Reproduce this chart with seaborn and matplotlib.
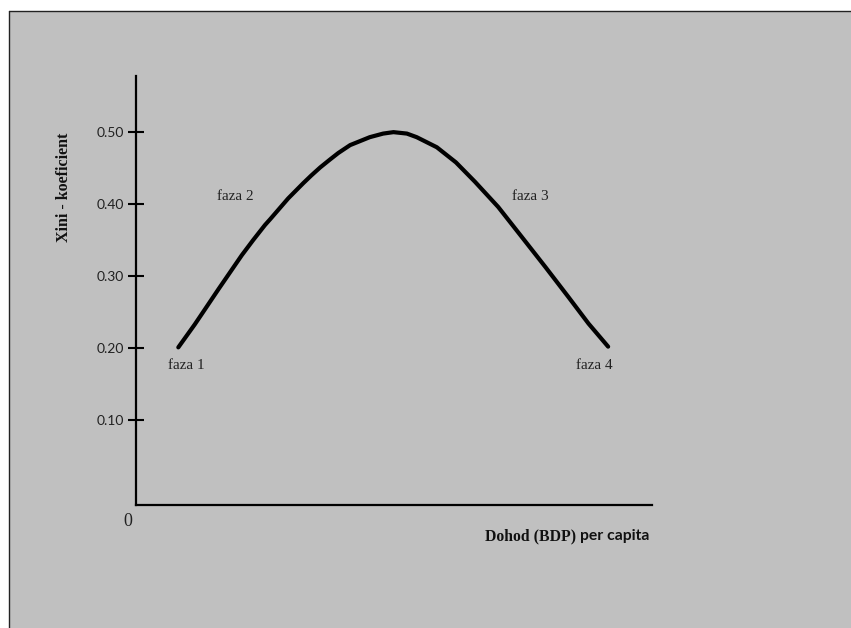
import matplotlib
matplotlib.use("Agg")
import matplotlib.pyplot as plt
from matplotlib.patches import Rectangle
import seaborn as sns
import pandas as pd

# Data (income units 0..10 along the drawn axis)
income = [0.82, 1.14, 1.30, 1.60, 2.05, 2.27, 2.50, 2.60, 2.95, 3.24, 3.40, 3.57, 3.76, 3.92,
          4.15, 4.53, 4.79, 4.99, 5.25, 5.44, 5.83, 6.20, 6.57, 7.02, 7.47, 7.93, 8.38, 8.77, 9.15]
gini = [0.201, 0.233, 0.250, 0.282, 0.329, 0.350, 0.371, 0.379, 0.408, 0.429, 0.440, 0.451, 0.462, 0.471,
        0.482, 0.493, 0.498, 0.500, 0.498, 0.493, 0.479, 0.458, 0.431, 0.396, 0.355, 0.313, 0.271, 0.234, 0.202]
y_ticks = [0.10, 0.20, 0.30, 0.40, 0.50]
y_tick_labels = ["0.10", "0.20", "0.30", "0.40", "0.50"]
phase_labels = ["faza 1", "faza 2", "faza 3", "faza 4"]
phase_x = [0.97, 1.92, 7.65, 8.88]
phase_y = [0.176, 0.411, 0.411, 0.176]

df = pd.DataFrame({"income": income, "gini": gini})

sns.set_theme(style="white")
plt.rcParams["font.family"] = ["Liberation Serif", "DejaVu Serif"]

W, H = 851, 628
fig = plt.figure(figsize=(W / 100, H / 100), dpi=100)
fig.patch.set_facecolor("white")

# grey panel with black top and left edge
fig.patches.append(Rectangle((9 / W, 0), 1 - 9 / W, 1 - 11 / H, transform=fig.transFigure,
                             facecolor="#c0c0c0", edgecolor="none", zorder=-10))
fig.add_artist(plt.Line2D([9 / W, 9 / W], [0, 1 - 11 / H], transform=fig.transFigure,
                          color="#222222", lw=1.0, zorder=-5))
fig.add_artist(plt.Line2D([9 / W, 1], [1 - 11 / H, 1 - 11 / H], transform=fig.transFigure,
                          color="#222222", lw=1.0, zorder=-5))

left, right, top, bottom = 136, 652, 76, 505
ax = fig.add_axes([left / W, 1 - bottom / H, (right - left) / W, (bottom - top) / H])
ax.set_facecolor("none")
ax.set_zorder(5)

sns.lineplot(data=df, x="income", y="gini", ax=ax, color="black", linewidth=3.0, sort=False)
ax.lines[0].set_solid_joinstyle("round")

ax.set_xlim(0, 10)
ax.set_ylim(-0.018, 0.578)
for s in ["top", "right"]:
    ax.spines[s].set_visible(False)
for s in ["left", "bottom"]:
    ax.spines[s].set_visible(True)
    ax.spines[s].set_color("black")
    ax.spines[s].set_linewidth(1.6)

ax.set_xticks([])
ax.set_yticks(y_ticks)
ax.set_yticklabels(y_tick_labels, fontfamily="Lato", fontsize=10, color="#222222")
ax.tick_params(axis="y", direction="inout", length=11.5, width=1.5, color="black", pad=3, left=True)
ax.set_xlabel("")
ax.set_ylabel("")
ax.grid(False)

for lab, xx, yy in zip(phase_labels, phase_x, phase_y):
    ax.text(xx, yy, lab, ha="center", va="center", fontsize=11, color="#222222",
            fontfamily="Liberation Serif")

# y-axis title
fig.text(64 / W, 1 - 187 / H, "Xini - koeficient", rotation=90, ha="center", va="center",
         fontsize=11.5, fontweight="bold", fontfamily="Liberation Serif", color="#111111")
# origin label
fig.text(128 / W, 1 - 522 / H, "0", ha="center", va="center", fontsize=13,
         fontfamily="Liberation Serif", color="#222222")
# x-axis title (serif part + sans part)
t1 = fig.text(485 / W, 1 - 536 / H, "Dohod (BDP) ", ha="left", va="center", fontsize=11.3,
              fontweight="bold", fontfamily="Liberation Serif", color="#111111")
fig.canvas.draw()
bb = t1.get_window_extent()
fig.text(bb.x1 / W, 1 - 536 / H, "per capita", ha="left", va="center", fontsize=11.3,
         fontweight="bold", fontfamily="Lato", color="#111111")

fig.savefig("out.png", dpi=100, facecolor=fig.get_facecolor())
